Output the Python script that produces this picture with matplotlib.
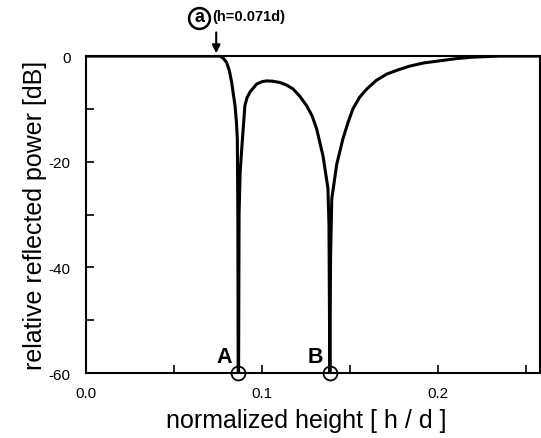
import numpy as np
import matplotlib
matplotlib.use("Agg")
import matplotlib.pyplot as plt
from matplotlib.ticker import MultipleLocator

# reflected power vs normalized height
h = [0.0, 0.030, 0.060, 0.0761, 0.0780, 0.0799, 0.0815, 0.0828, 0.0847, 0.0855,
     0.0860, 0.0863, 0.0865, 0.0867, 0.0870, 0.0876, 0.0885, 0.0903, 0.0915,
     0.0932, 0.0970, 0.1000, 0.1027, 0.1060, 0.1102, 0.1140, 0.1176, 0.1215,
     0.1254, 0.1285, 0.1311, 0.1347, 0.1375, 0.1381, 0.1386, 0.1390, 0.1397,
     0.1425, 0.1460, 0.1490, 0.1517, 0.1555, 0.1597, 0.1650, 0.1710, 0.1775,
     0.1840, 0.1920, 0.2010, 0.2100, 0.2200, 0.2350, 0.2580]
power_db = [0.0, 0.0, 0.0, 0.0, -0.4, -1.2, -2.8, -5.0, -9.4, -12.5,
            -15.7, -30.0, -62.0, -62.0, -30.0, -22.0, -17.6, -9.4, -7.9,
            -6.8, -5.3, -4.85, -4.7, -4.75, -5.0, -5.5, -6.2, -7.6,
            -9.4, -11.3, -13.8, -18.9, -25.0, -32.0, -62.0, -38.0, -27.0,
            -20.5, -15.7, -12.5, -10.0, -7.8, -6.2, -4.6, -3.4, -2.6,
            -1.9, -1.3, -0.9, -0.5, -0.2, 0.0, 0.0]

dips = [0.0866, 0.1386]
dip_labels = ["A", "B"]
h_a = 0.074

narrow = ["Liberation Sans Narrow", "Liberation Sans", "DejaVu Sans"]
sans = ["Liberation Sans", "DejaVu Sans"]

fig = plt.figure(figsize=(5.41, 4.39), dpi=100)
ax = fig.add_axes([0.159, 0.148, 0.839, 0.722])

ax.plot(h, power_db, color="black", lw=2.2, solid_joinstyle="round", clip_on=True)
ax.set_xlim(0, 0.258)
ax.set_ylim(-60, 0)

ax.xaxis.set_minor_locator(MultipleLocator(0.05))
ax.yaxis.set_minor_locator(MultipleLocator(10))
ax.tick_params(which="both", direction="in", length=6, width=1.2,
               top=False, right=False)
ax.tick_params(axis="y", pad=11)
ax.tick_params(axis="x", pad=9)
ax.set_yticks([0, -20, -40, -60])
ax.set_yticklabels(["0", "-20", "-40", "-60"], family=narrow, fontsize=11)
ax.set_xticks([0, 0.1, 0.2])
ax.set_xticklabels(["0.0", "0.1", "0.2"], family=narrow, fontsize=11)
for s in ax.spines.values():
    s.set_linewidth(1.5)

ax.set_xlabel("normalized height [ h / d ]", family=sans, fontsize=18)
ax.xaxis.set_label_coords(0.485, -0.11)
ax.set_ylabel("relative reflected power [dB]", family=sans, fontsize=18, labelpad=1)

# dips A and B
ax.plot(dips, [-60, -60], "o", ms=10, mfc="none", mec="black", mew=1.3, clip_on=False)
for x, lab in zip(dips, dip_labels):
    ax.text(x - 0.0038, -58.9, lab, family=sans, fontsize=15.5, fontweight="bold",
            ha="right", va="bottom")

# marker (a)
ax.annotate("", xy=(h_a, 0), xytext=(h_a, 5),
            arrowprops=dict(arrowstyle="-|>", color="black", lw=1.5, mutation_scale=12),
            annotation_clip=False)
ax.plot([h_a - 0.0095], [7.3], "o", ms=15, mfc="none", mec="black", mew=1.8, clip_on=False)
ax.text(h_a - 0.0095, 7.5, "a", family=sans, fontsize=13, fontweight="bold",
        ha="center", va="center", clip_on=False)
ax.text(h_a - 0.0020, 7.5, "(h=0.071d)", family=narrow, fontsize=10.5, fontweight="bold",
        ha="left", va="center", clip_on=False)

fig.savefig("out.png", dpi=100)
